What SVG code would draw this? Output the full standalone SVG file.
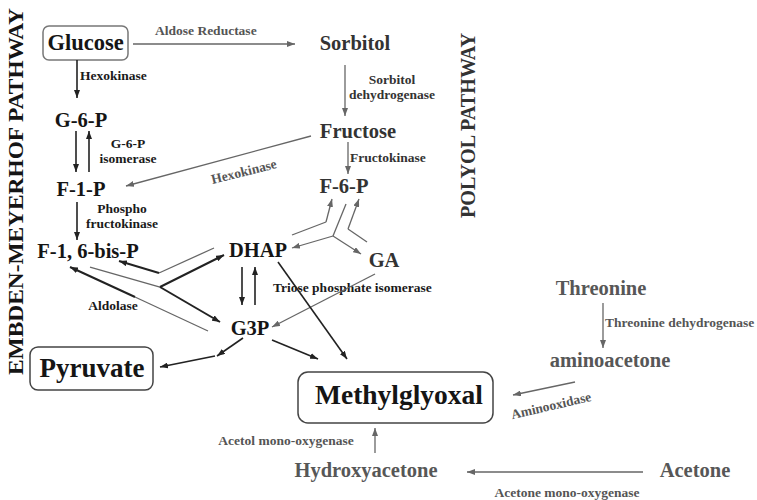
<svg xmlns="http://www.w3.org/2000/svg" width="757" height="500" viewBox="0 0 757 500">
<style>
text{font-family:"Liberation Serif","Times New Roman",serif;font-weight:bold}
.n{font-size:20.5px;fill:#151515}
.m{font-size:20.5px;fill:#333}
.g{font-size:20.5px;fill:#575757}
.e{font-size:13.5px;fill:#1a1a1a}
.eg{font-size:13.5px;fill:#555}
.em{font-size:13.5px;fill:#333}
.c{text-anchor:middle}
.box{fill:#fff;stroke:#444;stroke-width:1.5}
.d{stroke:#222;stroke-width:1.6;fill:none}
.dt{stroke:#222;stroke-width:2;fill:none}
.l{stroke:#666;stroke-width:1.3;fill:none}
.lg{stroke:#666;stroke-width:1.3;fill:none}
</style>
<defs>
<marker id="a" viewBox="0 0 8 6" refX="8" refY="3" markerWidth="8" markerHeight="6" markerUnits="userSpaceOnUse" orient="auto"><path d="M0,0L8,3L0,6z" fill="#222"/></marker>
<marker id="ag" viewBox="0 0 8 6" refX="8" refY="3" markerWidth="8" markerHeight="6" markerUnits="userSpaceOnUse" orient="auto"><path d="M0,0L8,3L0,6z" fill="#666"/></marker>
</defs>
<rect width="757" height="500" fill="#fff"/>

<g id="title-emp"><text class="n" style="font-size:20px" transform="translate(23,375) rotate(-90)" textLength="367" lengthAdjust="spacingAndGlyphs">EMBDEN-MEYERHOF PATHWAY</text></g>
<g id="title-polyol"><text class="m" style="font-size:20px" transform="translate(475,218) rotate(-90)" textLength="185" lengthAdjust="spacingAndGlyphs">POLYOL PATHWAY</text></g>

<g id="glucose"><rect x="43" y="26" width="85" height="34" rx="6" fill="#fff" stroke="#777" stroke-width="1.5"/><text class="n c" x="85.5" y="50" style="font-size:22.5px">Glucose</text></g>
<g id="sorbitol"><text class="m c" x="355" y="50">Sorbitol</text></g>
<g id="fructose"><text class="m c" x="358" y="138">Fructose</text></g>
<g id="f6p"><text class="m c" x="344" y="193">F-6-P</text></g>
<g id="g6p"><text class="n c" x="81" y="127">G-6-P</text></g>
<g id="f1p"><text class="n c" x="81" y="196">F-1-P</text></g>
<g id="f16bp"><text class="n c" x="88" y="258">F-1, 6-bis-P</text></g>
<g id="dhap"><text class="n c" x="258" y="257">DHAP</text></g>
<g id="ga"><text class="m c" x="384" y="267">GA</text></g>
<g id="g3p"><text class="n c" x="250" y="335">G3P</text></g>
<g id="pyruvate"><rect class="box" x="30" y="347" width="123" height="43" rx="8"/><text class="n c" x="92" y="377" style="font-size:27px">Pyruvate</text></g>
<g id="methylglyoxal"><rect class="box" x="298" y="372" width="195" height="51" rx="10"/><text class="n c" x="399" y="404" style="font-size:27.5px">Methylglyoxal</text></g>
<g id="threonine"><text class="g c" x="601" y="295">Threonine</text></g>
<g id="aminoacetone"><text class="g c" x="610" y="367">aminoacetone</text></g>
<g id="hydroxyacetone"><text class="g c" x="366" y="477">Hydroxyacetone</text></g>
<g id="acetone"><text class="g c" x="695" y="477">Acetone</text></g>

<g id="labels">
<text class="eg" x="155" y="35">Aldose Reductase</text>
<text class="e" x="80" y="80">Hexokinase</text>
<text class="em c" x="392" y="84">Sorbitol</text>
<text class="em c" x="392" y="99">dehydrogenase</text>
<text class="em" x="350" y="162">Fructokinase</text>
<text class="e c" x="128" y="148">G-6-P</text>
<text class="e c" x="128" y="163">isomerase</text>
<text class="eg c" transform="translate(245,176) rotate(-14)">Hexokinase</text>
<text class="e c" x="122" y="213">Phospho</text>
<text class="e c" x="122" y="228">fructokinase</text>
<text class="e" x="273" y="292">Triose phosphate isomerase</text>
<text class="e c" x="113" y="310">Aldolase</text>
<text class="eg" x="605" y="327">Threonine dehydrogenase</text>
<text class="eg c" transform="translate(552,410) rotate(-13)">Aminooxidase</text>
<text class="eg c" x="286" y="445">Acetol mono-oxygenase</text>
<text class="eg c" x="567" y="497">Acetone mono-oxygenase</text>
</g>

<g id="connectors">
<line class="lg" x1="133" y1="44" x2="295" y2="44" marker-end="url(#ag)"/>
<line class="d" x1="77" y1="60" x2="77" y2="98" marker-end="url(#a)"/>
<line class="lg" x1="345" y1="65" x2="345" y2="116" marker-end="url(#ag)"/>
<line class="lg" x1="348" y1="142" x2="348" y2="174" marker-end="url(#ag)"/>
<line class="d" x1="76" y1="131" x2="76" y2="172" marker-end="url(#a)"/>
<line class="d" x1="89" y1="172" x2="89" y2="131" marker-end="url(#a)"/>
<line class="lg" x1="311" y1="136" x2="126" y2="186" marker-end="url(#ag)"/>
<line class="d" x1="77" y1="202" x2="77" y2="240" marker-end="url(#a)"/>
<polyline class="l" points="214,248 159,273"/>
<line class="dt" x1="159" y1="273" x2="119" y2="261" marker-end="url(#a)"/>
<polyline class="l" points="90,267 160,287"/>
<line class="dt" x1="160" y1="287" x2="224" y2="255" marker-end="url(#a)"/>
<line class="dt" x1="160" y1="287" x2="220" y2="322" marker-end="url(#a)"/>
<polyline class="l" points="208,331 135,297"/>
<line class="dt" x1="135" y1="297" x2="70" y2="267" marker-end="url(#a)"/>
<polyline class="l" points="292,235 326,222"/>
<line class="l" x1="326" y1="222" x2="332" y2="199" marker-end="url(#ag)"/>
<polyline class="l" points="367,242 348,229"/>
<line class="l" x1="348" y1="229" x2="359" y2="199" marker-end="url(#ag)"/>
<line class="l" x1="346" y1="204" x2="333" y2="236"/>
<line class="l" x1="333" y1="236" x2="292" y2="248" marker-end="url(#ag)"/>
<line class="l" x1="333" y1="236" x2="361" y2="254" marker-end="url(#ag)"/>
<line class="d" x1="242" y1="267" x2="242" y2="305" marker-end="url(#a)"/>
<line class="d" x1="255" y1="305" x2="255" y2="267" marker-end="url(#a)"/>
<line class="lg" x1="375" y1="274" x2="272" y2="327" marker-end="url(#ag)"/>
<line class="d" x1="278" y1="262" x2="347" y2="359" marker-end="url(#a)"/>
<line class="d" x1="272" y1="340" x2="318" y2="359" marker-end="url(#a)"/>
<line class="d" x1="243" y1="338" x2="217" y2="356" marker-end="url(#a)"/>
<line class="d" x1="215" y1="356" x2="160" y2="367" marker-end="url(#a)"/>
<line class="lg" x1="603" y1="303" x2="603" y2="348" marker-end="url(#ag)"/>
<line class="lg" x1="575" y1="382" x2="513" y2="395" marker-end="url(#ag)"/>
<line class="lg" x1="375" y1="453" x2="375" y2="428" marker-end="url(#ag)"/>
<line class="lg" x1="643" y1="472" x2="467" y2="472" marker-end="url(#ag)"/>
</g>
</svg>
